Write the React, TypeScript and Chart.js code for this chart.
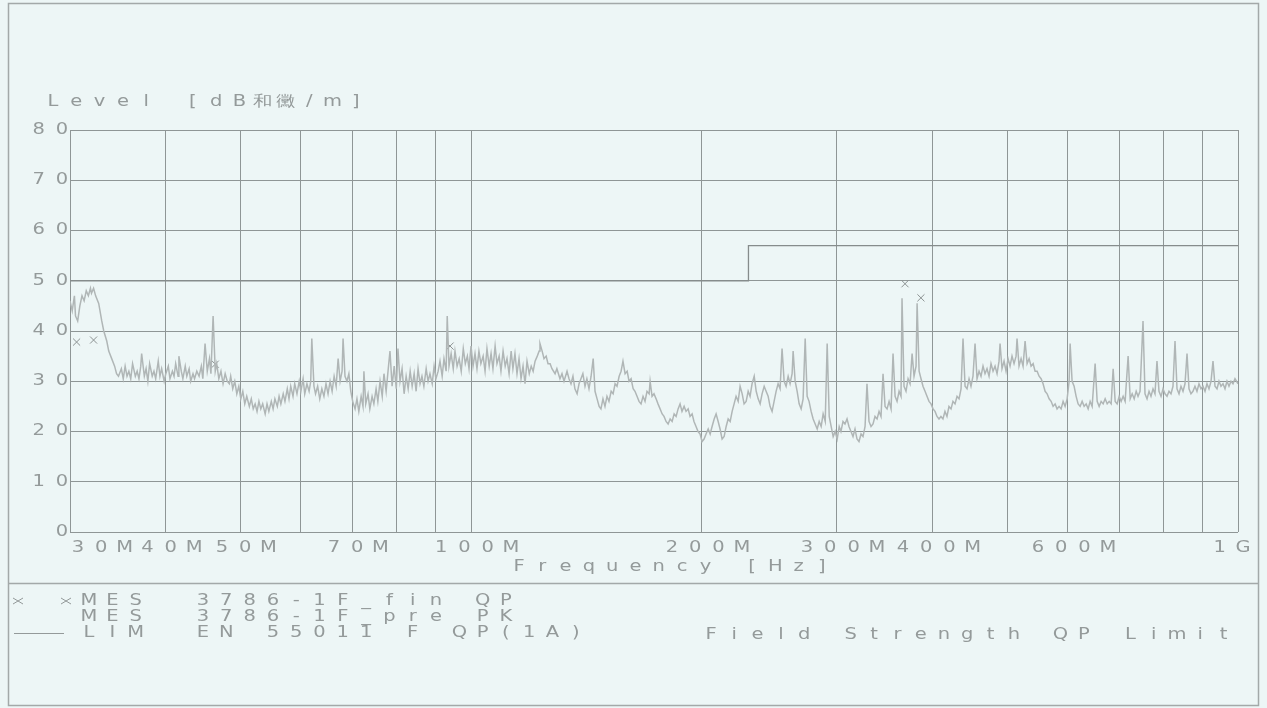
import React, { useEffect, useRef } from "react";
import { Chart, registerables } from "chart.js";

Chart.register(...registerables);

// ---------- data ----------
const GRID_FREQS_MHZ = [30, 40, 50, 60, 70, 80, 90, 100, 200, 300, 400, 500, 600, 700, 800, 900, 1000];
const X_LABEL_FREQS_MHZ = [30, 40, 50, 70, 100, 200, 300, 400, 600, 1000];
const X_LABEL_TEXTS = ["30M", "40M", "50M", "70M", "100M", "200M", "300M", "400M", "600M", "1G"];
const Y_TICKS = [0, 10, 20, 30, 40, 50, 60, 70, 80];

const Y_TITLE = "Level [dB和黴/m]";
const X_TITLE = "Frequency [Hz]";

// EN 55011 limit (dB/m)
const LIMIT_FREQ_MHZ = [30, 230, 230, 1000];
const LIMIT_LEVEL = [50, 50, 57, 57];

// final QP measurements
const QP_FREQ_MHZ = [30.6, 32.2, 46.4, 93.9, 368, 386];
const QP_LEVEL = [37.8, 38.2, 33.4, 37.0, 49.4, 46.6];

// pre-scan PK trace
const PK_FREQ_MHZ = [
  30.0, 30.2, 30.4, 30.5, 30.7, 30.9, 31.1, 31.3, 31.5, 31.7, 31.9, 32.0, 32.2, 32.4, 32.7, 33.0, 33.2, 33.5, 33.7, 34.0,
  34.3, 34.5, 34.7, 35.0, 35.2, 35.4, 35.6, 35.8, 36.0, 36.2, 36.5, 36.7, 36.9, 37.1, 37.2, 37.5, 37.7, 37.9, 38.1, 38.4,
  38.6, 38.8, 39.1, 39.3, 39.5, 39.8, 40.0, 40.3, 40.5, 40.8, 41.0, 41.2, 41.5, 41.6, 41.9, 42.1, 42.4, 42.6, 42.9, 43.1,
  43.4, 43.6, 43.9, 44.2, 44.5, 44.7, 45.0, 45.3, 45.6, 45.8, 46.1, 46.4, 46.6, 46.9, 47.2, 47.5, 47.8, 48.1, 48.4, 48.6,
  48.9, 49.2, 49.5, 49.8, 50.1, 50.4, 50.7, 51.0, 51.4, 51.7, 52.0, 52.3, 52.6, 52.9, 53.2, 53.5, 53.9, 54.2, 54.5, 54.9,
  55.2, 55.5, 55.9, 56.2, 56.5, 56.9, 57.2, 57.6, 57.9, 58.2, 58.6, 58.9, 59.3, 59.7, 60.0, 60.4, 60.7, 61.1, 61.5, 61.8,
  62.0, 62.4, 62.7, 63.1, 63.5, 63.9, 64.3, 64.7, 65.1, 65.5, 65.9, 66.3, 66.7, 67.1, 67.5, 67.9, 68.1, 68.5, 68.9, 69.3,
  69.7, 70.1, 70.6, 71.0, 71.4, 71.9, 72.3, 72.5, 72.9, 73.4, 73.8, 74.3, 74.7, 75.2, 75.6, 76.1, 76.6, 77.0, 77.5, 78.0,
  78.4, 78.9, 79.4, 79.9, 80.3, 80.8, 81.3, 81.8, 82.3, 82.8, 83.3, 83.8, 84.3, 84.8, 85.3, 85.8, 86.3, 86.8, 87.4, 87.9,
  88.4, 89.0, 89.5, 90.0, 90.6, 91.1, 91.7, 92.2, 92.8, 93.1, 93.6, 94.2, 94.8, 95.3, 95.9, 96.5, 97.1, 97.7, 98.3, 98.9,
  99.4, 100.0, 100.6, 101.2, 101.8, 102.4, 103.0, 103.7, 104.3, 104.9, 105.6, 106.2, 106.8, 107.5, 108.1, 108.8, 109.4, 110.1, 110.8, 111.4,
  112.1, 112.8, 113.4, 114.1, 114.8, 115.5, 116.2, 116.9, 117.6, 118.3, 119.1, 119.8, 120.5, 121.2, 122.0, 122.7, 123.0, 123.8, 124.5, 125.3,
  126.0, 126.8, 127.5, 128.7, 129.4, 130.6, 131.4, 132.2, 133.4, 134.2, 135.0, 135.8, 136.6, 137.5, 138.3, 139.1, 139.9, 140.8, 141.6, 142.5,
  143.4, 144.3, 145.1, 146.0, 146.9, 147.7, 148.6, 149.5, 150.4, 151.3, 152.3, 153.2, 154.1, 155.0, 156.0, 156.9, 157.8, 158.8, 159.8, 160.7,
  161.7, 162.7, 163.6, 164.6, 165.6, 166.6, 167.6, 168.6, 169.6, 170.7, 171.2, 172.2, 173.2, 174.3, 175.3, 176.4, 177.5, 178.5, 179.6, 180.7,
  181.8, 182.9, 184.0, 185.1, 186.2, 187.3, 188.4, 189.6, 190.7, 191.9, 193.0, 194.2, 195.3, 196.5, 197.7, 198.9, 200.1, 201.3, 202.5, 203.8,
  205.0, 206.2, 207.5, 208.7, 210.0, 211.2, 212.5, 213.8, 215.1, 216.4, 217.7, 219.0, 220.3, 221.6, 223.0, 224.3, 225.7, 227.0, 228.4, 229.8,
  231.1, 232.5, 234.0, 235.4, 236.8, 238.2, 239.6, 241.1, 242.5, 244.0, 245.4, 246.9, 248.4, 249.9, 251.4, 252.9, 254.4, 256.0, 257.5, 259.1,
  260.6, 262.2, 263.0, 264.6, 266.2, 267.8, 269.4, 271.0, 272.7, 274.3, 275.9, 277.6, 279.3, 281.0, 282.7, 284.4, 286.1, 287.8, 289.6, 291.3,
  293.1, 294.8, 296.6, 298.4, 300.2, 302.0, 303.6, 305.5, 307.3, 309.2, 311.0, 312.9, 314.8, 316.7, 318.6, 320.5, 322.5, 324.4, 326.4, 328.3,
  330.3, 332.3, 334.3, 336.3, 338.4, 340.4, 342.4, 344.5, 346.6, 348.7, 350.8, 352.9, 355.0, 357.2, 359.3, 361.5, 363.6, 364.7, 366.9, 369.1,
  371.4, 373.6, 375.9, 378.1, 380.4, 381.6, 383.9, 386.1, 388.4, 390.8, 393.1, 395.5, 397.9, 400.3, 402.7, 405.1, 407.5, 409.9, 412.4, 414.9,
  417.4, 419.9, 422.5, 425.0, 427.6, 430.2, 432.8, 435.4, 438.0, 440.7, 443.3, 446.0, 448.6, 451.3, 454.1, 456.8, 459.6, 462.3, 465.1, 467.9,
  470.7, 473.6, 476.4, 479.3, 482.2, 485.1, 488.0, 489.5, 492.4, 495.4, 498.4, 501.4, 504.4, 507.4, 510.5, 513.6, 515.1, 518.2, 521.4, 524.5,
  527.7, 530.9, 534.1, 537.3, 540.6, 543.8, 547.1, 550.4, 553.7, 557.0, 560.4, 563.8, 567.2, 570.6, 574.0, 577.5, 580.9, 584.4, 588.0, 591.5,
  595.1, 598.7, 602.3, 604.1, 607.7, 611.4, 615.1, 618.8, 622.6, 626.3, 630.1, 633.9, 637.7, 641.5, 645.4, 651.2, 655.2, 659.1, 663.1, 667.1,
  671.1, 675.2, 679.2, 683.3, 687.4, 691.6, 695.7, 699.9, 704.1, 708.3, 712.6, 719.0, 723.5, 727.8, 732.2, 736.6, 740.7, 745.2, 751.9, 756.4,
  761.0, 765.6, 770.1, 774.8, 779.4, 784.1, 788.8, 793.7, 798.4, 803.2, 808.1, 812.9, 817.8, 822.7, 827.7, 832.7, 837.7, 842.7, 847.8, 852.9,
  858.1, 863.2, 868.3, 873.5, 878.8, 884.1, 889.5, 894.9, 900.2, 905.7, 911.1, 916.6, 922.2, 927.7, 933.3, 938.9, 944.6, 950.2, 956.0, 961.7,
  967.5, 973.3, 979.2, 985.1, 991.0, 1000,
];
const PK_LEVEL = [
  46, 44, 47, 43, 42, 45, 47, 46, 48, 47, 48.5, 47.5, 48.5, 47, 45.5, 42, 40, 38, 36, 34.5,
  33, 31.5, 31, 32.5, 30.5, 33, 31, 32, 30.5, 33.5, 31, 32, 30.5, 33, 35.5, 31, 32.5, 30, 33.5, 31,
  32, 30.5, 34, 31, 32.5, 30, 31.5, 33, 30.5, 32, 31, 33.5, 31, 35, 32, 30.5, 33, 31, 32.5, 30,
  31.5, 30.5, 32, 31, 33, 30.5, 37.5, 32, 34.5, 31.5, 43, 32, 33.5, 30.5, 32, 29.5, 31.5, 30, 29.5, 31,
  28.5, 30, 27.5, 29, 26.5, 28, 25.5, 27, 25, 26.5, 24.5, 25.5, 24, 26, 24.5, 25.5, 23.5, 25.5, 24, 26,
  24.5, 26.5, 25, 27, 25.5, 27.5, 26, 28.5, 26.5, 29, 27, 29.5, 27.5, 30, 28, 30.5, 27.5, 29.5, 28, 30,
  38.5, 29, 27.5, 29, 26.5, 28.5, 27, 29.5, 27.5, 30, 28, 31, 29, 34.5, 30, 32, 38.5, 31, 30, 31.5,
  28, 26, 24.5, 26.5, 24, 27, 25, 32, 25.5, 27.5, 24.5, 27, 25.5, 28.5, 26, 30, 27, 31.5, 28, 32.5,
  36, 29, 33, 28.5, 36.5, 30, 32.5, 27.5, 31, 28.5, 32, 29, 31.5, 28, 32.5, 29.5, 31, 29, 32.5, 30,
  31.5, 29.5, 33, 30.5, 32, 34, 31, 34.5, 32, 43, 33, 35.5, 32.5, 36, 33, 34.5, 32, 36.5, 33.5, 35,
  32.5, 37, 33, 35.5, 32.5, 36, 33.5, 35, 32, 36.5, 33, 35.5, 32.5, 37, 33.5, 35, 32, 36, 33, 34.5,
  31.5, 36, 32.5, 35.5, 31.5, 34.5, 30.5, 33, 29.5, 34, 31.5, 33, 32, 34, 35, 36, 37.5, 36, 34.5, 35,
  33.5, 33.5, 32.5, 31.5, 32.5, 30.5, 31.5, 30, 32, 30.5, 29.5, 31, 28.5, 27.5, 29.5, 30.5, 31.5, 29, 30.5, 28.5,
  31, 34.5, 28, 26.5, 25, 24.5, 26.5, 25, 27, 26, 28, 27.5, 29.5, 29, 31, 32, 34, 31.5, 32, 30,
  30.5, 28.5, 28, 27, 26, 25.5, 27, 26, 28, 27.5, 30, 27, 27.5, 26.5, 25.5, 24.5, 23.5, 23, 22, 21.5,
  22.5, 22, 23.5, 23, 24.5, 25.5, 24, 25, 24, 24.5, 23, 23.5, 22, 21, 20, 19.5, 18, 18.5, 19.5, 20.5,
  19.5, 21, 22.5, 23.5, 22, 20.5, 18.5, 19, 21, 22.5, 22, 24, 25.5, 27, 26, 29, 27.5, 25.5, 26, 28,
  27, 29.5, 31, 28, 26.5, 25.5, 27.5, 29, 28, 27, 25, 24, 26, 28, 29.5, 28.5, 36.5, 30, 29, 31,
  29.5, 31.5, 36, 30, 28, 25.5, 24.5, 26.5, 38.5, 27, 26, 24, 22.5, 21.5, 20.5, 22, 21, 23.5, 22, 37.5,
  23, 21, 19, 20, 18.5, 21, 20, 22, 21.5, 22.5, 21, 20, 19, 20.5, 18.5, 18, 19.5, 19, 21, 29.5,
  22, 21, 21.5, 23, 22.5, 24, 23, 31.5, 25, 24.5, 26, 24.5, 35.5, 27, 26, 28, 27, 46.5, 29, 28,
  30.5, 29.5, 35.5, 31, 33, 45.5, 32, 30.5, 29, 28, 27, 26, 25.5, 24.5, 24, 23, 22.5, 23, 22.5, 24,
  23, 25, 24.5, 26, 25.5, 27, 26.5, 28.5, 38.5, 29, 28.5, 30.5, 29, 31, 37.5, 30.5, 32, 31, 33, 31.5,
  32.5, 31, 33.5, 32, 33, 31.5, 34, 37.5, 32.5, 34, 32, 34.5, 33, 35, 33.5, 35, 38.5, 33, 34.5, 33,
  38, 33.5, 34.5, 33, 33.5, 32, 32, 31, 30.5, 29.5, 28, 27.5, 26.5, 26, 25, 25.5, 24.5, 25, 24.5, 26,
  25, 26.5, 30, 37.5, 30, 29, 27, 25.5, 25, 26, 25, 25.5, 24.5, 26, 25, 33.5, 26, 25, 26, 25.5,
  26.5, 25.5, 26, 25.5, 32.5, 26, 25.5, 27, 26, 27, 26, 35, 26.5, 27.5, 26.5, 28, 27, 28, 42, 27.5,
  26.5, 28, 27, 28.5, 27.5, 34, 28, 27, 28.5, 27.5, 27, 28, 27.5, 29, 38, 28.5, 27.5, 29, 28, 29.5,
  35.5, 28.5, 27.5, 28, 29, 28, 29.5, 28.5, 29, 28, 29.5, 28.5, 30, 34, 29, 28.5, 30, 29, 29.5, 28.5,
  30, 29, 30, 29.5, 30.5, 29.5,
];

// ---------- styles ----------
const BG = "#edf6f6";
const GRID_COLOR = "#8f9696";
const TRACE_COLOR = "#b0b6b6";
const LIMIT_COLOR = "#868c8c";
const TEXT_COLOR = "#949a9a";
const FRAME_COLOR = "#a3a9a9";
const FONT = '15px "DejaVu Sans", sans-serif';
const STRETCH = 1.3;
const ADV = 23.3;

function drawSpaced(ctx: CanvasRenderingContext2D, text: string, firstCenter: number, y: number) {
  const chars = Array.from(text);
  chars.forEach((ch, i) => {
    if (ch === " ") return;
    ctx.save();
    ctx.translate(firstCenter + i * ADV, y);
    ctx.scale(STRETCH, 1);
    ctx.fillText(ch, 0, 0);
    ctx.restore();
  });
}

const textPlugin = {
  id: "reportText",
  beforeDraw(chart: any) {
    const ctx: CanvasRenderingContext2D = chart.ctx;
    ctx.save();
    ctx.fillStyle = BG;
    ctx.fillRect(0, 0, chart.width, chart.height);
    ctx.strokeStyle = FRAME_COLOR;
    ctx.lineWidth = 1.5;
    ctx.strokeRect(8.5, 3.5, 1250, 702);
    ctx.beginPath();
    ctx.moveTo(8, 583.5);
    ctx.lineTo(1258, 583.5);
    ctx.stroke();
    ctx.restore();
  },
  afterDraw(chart: any) {
    const ctx: CanvasRenderingContext2D = chart.ctx;
    const xs = chart.scales.x;
    const ys = chart.scales.y;
    ctx.save();
    ctx.fillStyle = TEXT_COLOR;
    ctx.font = FONT;
    ctx.textAlign = "center";
    ctx.textBaseline = "middle";

    // y title
    drawSpaced(ctx, Y_TITLE, 53, 102);

    // y tick labels, right aligned to the axis
    Y_TICKS.forEach((v) => {
      const s = String(v);
      const y = ys.getPixelForValue(v);
      drawSpaced(ctx, s, 62 - (s.length - 1) * ADV, y);
    });

    // x tick labels
    X_LABEL_FREQS_MHZ.forEach((f, i) => {
      const s = X_LABEL_TEXTS[i];
      const px = xs.getPixelForValue(f) + 5;
      let first = px - ((s.length - 1) * ADV) / 2;
      const last = first + (s.length - 1) * ADV;
      if (first - 6 < xs.left) first = xs.left + 8;
      if (last + 7 > 1250) first -= last + 7 - 1250;
      drawSpaced(ctx, s, first, 548);
    });

    // x title
    drawSpaced(ctx, X_TITLE, 519, 567);

    // legend
    const l1 = 601, l2 = 617, l3 = 633;
    ctx.strokeStyle = TEXT_COLOR;
    ctx.lineWidth = 1;
    const cross = (cx: number, cy: number) => {
      ctx.beginPath();
      ctx.moveTo(cx - 5, cy - 3);
      ctx.lineTo(cx + 5, cy + 3);
      ctx.moveTo(cx + 5, cy - 3);
      ctx.lineTo(cx - 5, cy + 3);
      ctx.stroke();
    };
    cross(18, l1);
    cross(66, l1);
    drawSpaced(ctx, "MES", 89, l1);
    drawSpaced(ctx, "3786-1F_fin QP", 203, l1);
    drawSpaced(ctx, "MES", 89, l2);
    drawSpaced(ctx, "3786-1F_pre PK", 203, l2);
    ctx.beginPath();
    ctx.moveTo(14, l3 + 0.5);
    ctx.lineTo(64, l3 + 0.5);
    ctx.stroke();
    drawSpaced(ctx, "LIM", 89, l3);
    drawSpaced(ctx, "EN 55011 F QP(1A)", 203, l3);
    drawSpaced(ctx, "Field Strength QP Limit", 711, l3 + 2);
    ctx.restore();
  },
};

export default function App() {
  const canvasRef = useRef<HTMLCanvasElement | null>(null);

  useEffect(() => {
    if (!canvasRef.current) return;
    const trace = PK_FREQ_MHZ.map((f, i) => ({ x: f, y: PK_LEVEL[i] }));
    const limit = LIMIT_FREQ_MHZ.map((f, i) => ({ x: f, y: LIMIT_LEVEL[i] }));
    const qp = QP_FREQ_MHZ.map((f, i) => ({ x: f, y: QP_LEVEL[i] }));

    const chart = new Chart(canvasRef.current, {
      type: "line",
      data: {
        datasets: [
          {
            label: "LIM EN 55011 F QP(1A)",
            data: limit,
            borderColor: LIMIT_COLOR,
            borderWidth: 1.3,
            pointRadius: 0,
            tension: 0,
          },
          {
            label: "MES 3786-1F_pre PK",
            data: trace,
            borderColor: TRACE_COLOR,
            borderWidth: 1.5,
            pointRadius: 0,
            tension: 0,
          },
          {
            label: "MES 3786-1F_fin QP",
            data: qp,
            showLine: false,
            pointStyle: "crossRot",
            pointRadius: 5,
            borderColor: "#8c9292",
            borderWidth: 1,
            backgroundColor: "#8c9292",
          },
        ],
      },
      options: {
        responsive: false,
        animation: false,
        events: [],
        layout: { padding: { left: 70, right: 29, top: 130, bottom: 176 } },
        plugins: { legend: { display: false }, tooltip: { enabled: false } },
        scales: {
          x: {
            type: "logarithmic",
            min: 30,
            max: 1000,
            afterBuildTicks: (axis: any) => {
              axis.ticks = GRID_FREQS_MHZ.map((v) => ({ value: v }));
            },
            afterFit: (s: any) => {
              s.height = 0;
            },
            ticks: { display: false },
            border: { display: false },
            grid: { color: GRID_COLOR, lineWidth: 1, drawTicks: false, tickLength: 0 },
          },
          y: {
            type: "linear",
            min: 0,
            max: 80,
            ticks: { display: false, stepSize: 10 },
            afterFit: (s: any) => {
              s.width = 0;
            },
            border: { display: false },
            grid: { color: GRID_COLOR, lineWidth: 1, drawTicks: false, tickLength: 0 },
          },
        },
      },
      plugins: [textPlugin],
    });
    return () => chart.destroy();
  }, []);

  return (
    <div style={{ position: "fixed", left: 0, top: 0, width: 1267, height: 708, background: BG }}>
      <canvas ref={canvasRef} width={1267} height={708} style={{ display: "block" }} />
    </div>
  );
}
